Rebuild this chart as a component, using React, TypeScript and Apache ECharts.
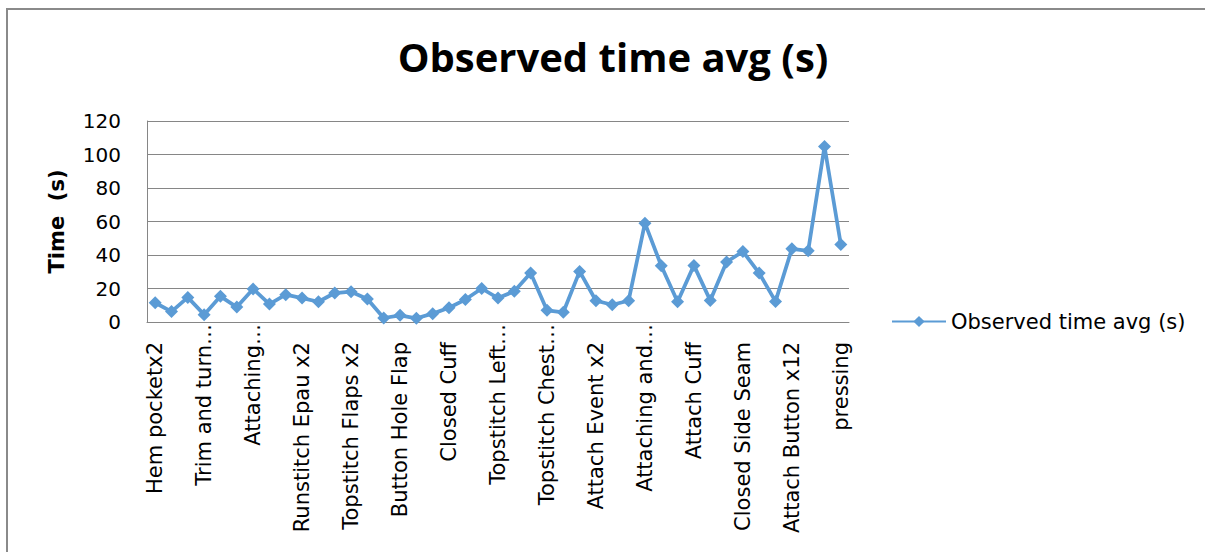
import React, { useEffect, useRef } from "react";
import * as echarts from "echarts";

const categories: string[] = [
  "Hem pocketx2", "Press pocket", "Attach pocket x2",
  "Trim and turn…", "Topstitch collar", "Run collar band",
  "Attaching…", "Hem front", "Runstitch Epau",
  "Runstitch Epau x2", "Turn Epau", "Runstitch Flaps x2",
  "Topstitch Flaps x2", "Attach label", "Button Hole Epau",
  "Button Hole Flap", "Hem sleeve", "Run Cuff",
  "Closed Cuff", "Turn Cuff", "Topstitch Cuff",
  "Topstitch Left…", "Attach yoke", "Topstitch yoke",
  "Topstitch Chest…", "Attach front", "Join shoulder",
  "Attach Event x2", "Topstitch shoulder", "Attach collar",
  "Attaching and…", "Attach sleeve", "Topstitch sleeve",
  "Attach Cuff", "Topstitch armhole", "Hem bottom",
  "Closed Side Seam", "Button Hole x12", "Mark button",
  "Attach Button x12", "Trim thread", "Inspection",
  "pressing",
];

const observedTime: number[] = [
  11.5, 6.2, 14.7, 4.4, 15.3, 8.9, 19.7, 10.7, 16.3, 14.3,
  12.1, 17.3, 18.1, 13.7, 2.4, 4.0, 2.2, 5.0, 8.5, 13.4,
  20.0, 14.3, 18.3, 29.2, 7.0, 5.8, 30.2, 12.7, 10.3, 12.7,
  59.0, 33.6, 12.1, 33.8, 12.9, 35.8, 42.1, 29.2, 12.3, 43.7,
  42.5, 104.8, 46.3,
];

const yTicks = { min: 0, max: 120, interval: 20 };

const seriesName = "Observed time avg (s)";
const titleText = "Observed time avg (s)";
const yAxisName = "Time  (s)";

const FONT = "'DejaVu Sans', sans-serif";
const TITLE_FONT = "'Open Sans', sans-serif";

export default function App() {
  const ref = useRef<HTMLDivElement>(null);

  useEffect(() => {
    if (!ref.current) return;
    const chart = echarts.init(ref.current, undefined, { renderer: "svg" });
    chart.setOption({
      animation: false,
      backgroundColor: "#ffffff",
      textStyle: { fontFamily: FONT },
      title: {
        text: titleText,
        left: 608,
        textAlign: "center",
        top: 31,
        textStyle: { fontSize: 40, fontWeight: "bold", color: "#000", fontFamily: TITLE_FONT },
      },
      graphic: [
        {
          type: "rect",
          shape: { x: 7, y: 9, width: 1240, height: 600 },
          style: { fill: "none", stroke: "#8a8a8a", lineWidth: 2 },
          silent: true,
        },
      ],
      legend: {
        left: 886,
        top: 306,
        itemWidth: 54,
        itemHeight: 14,
        itemGap: 4,
        textStyle: { fontSize: 21, color: "#000", fontFamily: FONT },
        data: [seriesName],
      },
      grid: { left: 147, top: 121, width: 702, height: 201, containLabel: false },
      xAxis: {
        type: "category",
        data: categories,
        boundaryGap: true,
        axisLine: { show: true, lineStyle: { color: "#868686", width: 1 } },
        axisTick: { show: false },
        axisLabel: {
          interval: 2,
          rotate: 90,
          fontSize: 21,
          color: "#000",
          margin: 2,
          fontFamily: FONT,
          formatter: (v: string) => (v.endsWith("…") ? `{t|${v}}` : `{n|${v}}`),
          rich: {
            t: { fontSize: 21, fontFamily: FONT, color: "#000", padding: [0, 0, 0, 0] },
            n: { fontSize: 21, fontFamily: FONT, color: "#000", padding: [0, 18, 0, 0] },
          },
        },
      },
      yAxis: {
        type: "value",
        min: yTicks.min,
        max: yTicks.max,
        interval: yTicks.interval,
        name: yAxisName,
        nameLocation: "middle",
        nameGap: 80,
        nameRotate: 90,
        nameTextStyle: { fontSize: 21, fontWeight: "bold", color: "#000", fontFamily: FONT },
        axisLine: { show: true, lineStyle: { color: "#868686", width: 1 } },
        axisTick: { show: false },
        splitLine: { show: true, lineStyle: { color: "#868686", width: 1 } },
        axisLabel: { fontSize: 20, color: "#000", margin: 26, fontFamily: FONT },
      },
      series: [
        {
          name: seriesName,
          type: "line",
          data: observedTime,
          symbol: "diamond",
          symbolSize: 13,
          showAllSymbol: true,
          lineStyle: { color: "#5B9BD5", width: 3.75 },
          itemStyle: { color: "#5B9BD5" },
        },
      ],
    });
    return () => chart.dispose();
  }, []);

  return (
    <div
      ref={ref}
      style={{ position: "fixed", left: 0, top: 0, width: 1205, height: 552 }}
    />
  );
}
